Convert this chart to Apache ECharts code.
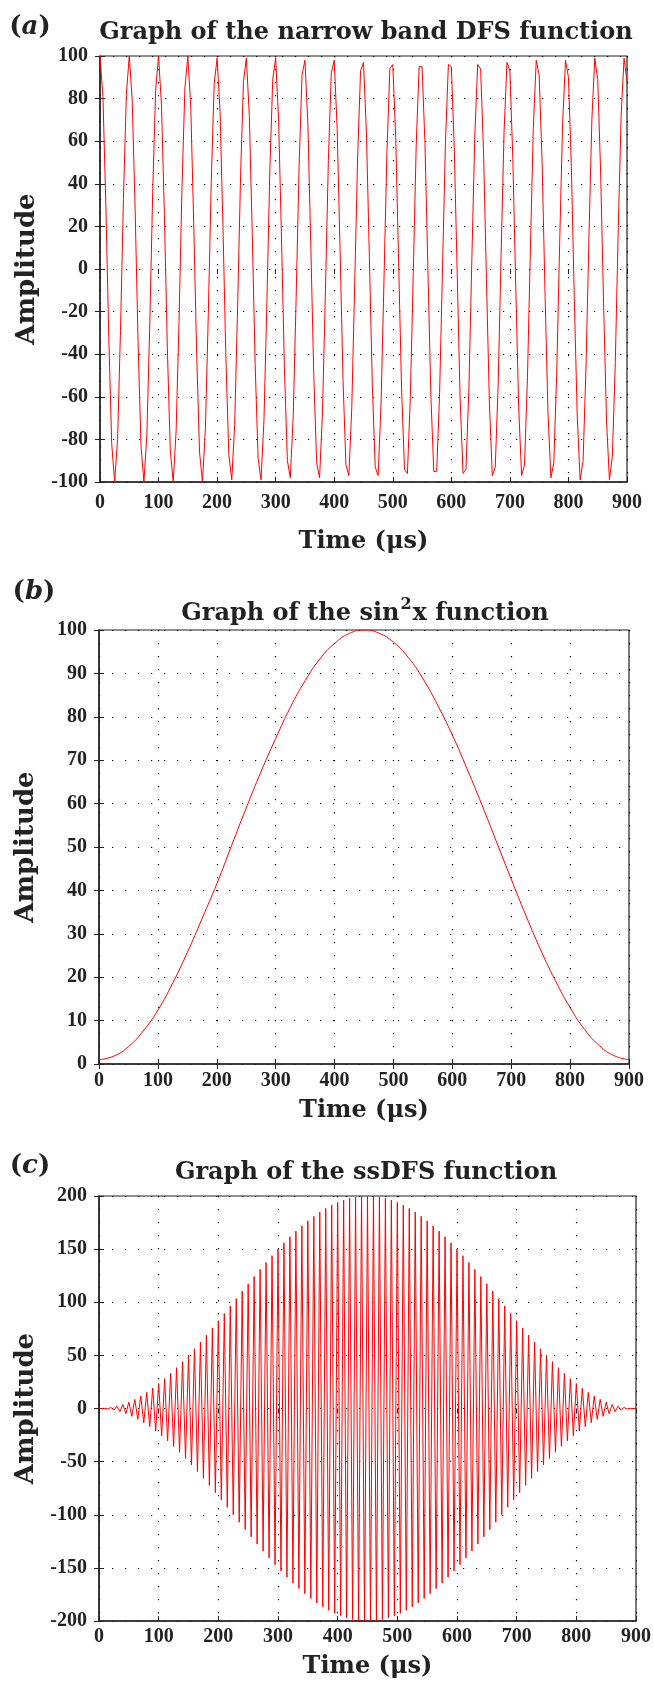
<!DOCTYPE html>
<html>
<head>
<meta charset="utf-8">
<script src="https://cdn.jsdelivr.net/npm/echarts@6.0.0/dist/echarts.min.js"></script>
<style>
  html, body { margin: 0; padding: 0; background: #fff; }
  #chart { width: 654px; height: 1683px; }
</style>
</head>
<body>
<div id="chart"></div>
<script>
// sample times (us) shared by panels (a) and (c)
const time = [
  0, 5, 10, 15, 20, 25, 30, 35, 40, 45, 50, 55, 60, 65, 70, 75, 80, 85, 90, 95,
  100, 105, 110, 115, 120, 125, 130, 135, 140, 145, 150, 155, 160, 165, 170, 175, 180, 185, 190, 195,
  200, 205, 210, 215, 220, 225, 230, 235, 240, 245, 250, 255, 260, 265, 270, 275, 280, 285, 290, 295,
  300, 305, 310, 315, 320, 325, 330, 335, 340, 345, 350, 355, 360, 365, 370, 375, 380, 385, 390, 395,
  400, 405, 410, 415, 420, 425, 430, 435, 440, 445, 450, 455, 460, 465, 470, 475, 480, 485, 490, 495,
  500, 505, 510, 515, 520, 525, 530, 535, 540, 545, 550, 555, 560, 565, 570, 575, 580, 585, 590, 595,
  600, 605, 610, 615, 620, 625, 630, 635, 640, 645, 650, 655, 660, 665, 670, 675, 680, 685, 690, 695,
  700, 705, 710, 715, 720, 725, 730, 735, 740, 745, 750, 755, 760, 765, 770, 775, 780, 785, 790, 795,
  800, 805, 810, 815, 820, 825, 830, 835, 840, 845, 850, 855, 860, 865, 870, 875, 880, 885, 890, 895,
  900
];

// (a) narrow band DFS, sampled
const dfs = [
  100, 81, 30, -32, -82, -100, -80, -29, 33, 82,
  100, 79, 28, -34, -83, -100, -78, -26, 36, 84,
  100, 77, 25, -37, -85, -100, -76, -24, 38, 85,
  100, 76, 22, -39, -86, -100, -75, -21, 41, 87,
  99, 74, 20, -42, -87, -99, -73, -18, 43, 88,
  99, 72, 17, -45, -89, -99, -71, -16, 46, 89,
  99, 70, 14, -47, -90, -98, -69, -13, 48, 91,
  98, 68, 11, -49, -91, -98, -67, -10, 51, 92,
  98, 66, 9, -52, -92, -97, -65, -7, 53, 93,
  97, 64, 6, -54, -93, -97, -63, -5, 55, 94,
  96, 62, 3, -56, -94, -96, -60, -2, 58, 95,
  95, 59, 0, -59, -95, -95, -58, 1, 60, 96,
  95, 57, -2, -61, -96, -94, -56, 4, 62, 96,
  94, 55, -5, -63, -97, -93, -54, 7, 64, 97,
  93, 52, -8, -65, -97, -92, -51, 9, 66, 98,
  91, 50, -11, -67, -98, -91, -49, 12, 68, 98,
  90, 48, -14, -69, -99, -90, -46, 15, 70, 99,
  89, 45, -16, -71, -99, -88, -44, 18, 72, 99,
  88
];

// (b) sin^2 window
const timeB = [
  0, 25, 50, 75, 100, 125, 150, 175, 200, 225, 250, 275, 300, 325, 350, 375, 400, 425, 450,
  475, 500, 525, 550, 575, 600, 625, 650, 675, 700, 725, 750, 775, 800, 825, 850, 875, 900
];
const sin2 = [
  1.0, 1.8, 4.0, 7.6, 12.4, 18.6, 25.7, 33.5, 41.5, 50.3, 59.0, 67.3, 75.0, 82.2, 88.3, 93.3, 96.9, 99.2, 100,
  99.3, 97.2, 93.7, 88.8, 82.7, 75.8, 68.0, 59.8, 51.2, 42.6, 34.2, 26.3, 19.2, 13.0, 7.9, 4.2, 1.9, 1.0
];

// (c) ssDFS, alternating extremes every 5 us
const ssdfs = [
  0, -0.1, 0.2, -0.5, 1, -1.5, 2.2, -3, 3.9, -4.9,
  6, -7.3, 8.6, -10.1, 11.7, -13.4, 15.2, -17.1, 19.1, -21.2,
  23.4, -25.7, 28.1, -30.5, 33.1, -35.7, 38.4, -41.2, 44.1, -47,
  50, -53, 56.2, -59.3, 62.5, -65.8, 69.1, -72.4, 75.8, -79.2,
  82.6, -86.1, 89.5, -93, 96.5, -100, 103.5, -107, 110.5, -113.9,
  117.4, -120.8, 124.2, -127.6, 130.9, -134.2, 137.5, -140.7, 143.8, -147,
  150, -153, 155.9, -158.8, 161.6, -164.3, 166.9, -169.5, 171.9, -174.3,
  176.6, -178.8, 180.9, -182.9, 184.8, -186.6, 188.3, -189.9, 191.4, -192.7,
  194, -195.1, 196.1, -197, 197.8, -198.5, 199, -199.5, 199.8, -199.9,
  200, -199.9, 199.8, -199.5, 199, -198.5, 197.8, -197, 196.1, -195.1,
  194, -192.7, 191.4, -189.9, 188.3, -186.6, 184.8, -182.9, 180.9, -178.8,
  176.6, -174.3, 171.9, -169.5, 166.9, -164.3, 161.6, -158.8, 155.9, -153,
  150, -147, 143.8, -140.7, 137.5, -134.2, 130.9, -127.6, 124.2, -120.8,
  117.4, -113.9, 110.5, -107, 103.5, -100, 96.5, -93, 89.5, -86.1,
  82.6, -79.2, 75.8, -72.4, 69.1, -65.8, 62.5, -59.3, 56.2, -53,
  50, -47, 44.1, -41.2, 38.4, -35.7, 33.1, -30.5, 28.1, -25.7,
  23.4, -21.2, 19.1, -17.1, 15.2, -13.4, 11.7, -10.1, 8.6, -7.3,
  6, -4.9, 3.9, -3, 2.2, -1.5, 1, -0.5, 0.2, -0.1,
  0
];

const xTicks = { min: 0, max: 900, step: 100 };
const yTicksA = { min: -100, max: 100, step: 20 };
const yTicksB = { min: 0, max: 100, step: 10 };
const yTicksC = { min: -200, max: 200, step: 50 };

const titles = ['Graph of the narrow band DFS function', 'Graph of the sin{s|2}x function', 'Graph of the ssDFS function'];
const tags = ['a', 'b', 'c'];

const serif = 'DejaVu Serif';
const tickFont = 'Liberation Serif';
const ink = '#222';
const red = '#ff0000';

const panels = [
  { grid: { left: 100, top: 56, width: 527, height: 426 }, y: yTicksA, xMargin: 11, xNameGap: 48, tagPos: [30, 27], titlePos: [366, 33] },
  { grid: { left: 99, top: 630, width: 530, height: 434 }, y: yTicksB, xMargin: 7, xNameGap: 35, tagPos: [34, 592], titlePos: [365, 611] },
  { grid: { left: 99, top: 1196, width: 538, height: 425 }, y: yTicksC, xMargin: 6, xNameGap: 34, tagPos: [30, 1166], titlePos: [366, 1173] }
];

const dotted = { color: '#000', width: 1.2, type: [1.2, 11.8] };
const tick = { show: true, inside: true, length: 5, lineStyle: { color: ink, width: 1 } };
const label = { fontFamily: tickFont, fontWeight: 'bold', fontSize: 20, color: ink };

const grids = [], xAxes = [], yAxes = [], graphics = [];

panels.forEach((p, i) => {
  grids.push(Object.assign({ show: true, borderColor: ink, borderWidth: 1.2, containLabel: false }, p.grid));

  xAxes.push({
    gridIndex: i, type: 'value', position: 'bottom',
    min: xTicks.min, max: xTicks.max, interval: xTicks.step,
    axisLine: { show: true, onZero: false, lineStyle: { color: ink, width: 1.5 } },
    axisTick: tick,
    axisLabel: Object.assign({ margin: p.xMargin }, label),
    splitLine: { show: true, lineStyle: dotted },
    name: 'Time (μs)', nameLocation: 'middle', nameGap: p.xNameGap,
    nameTextStyle: { fontFamily: serif, fontWeight: 'bold', fontSize: 24, color: ink }
  });
  xAxes.push({
    gridIndex: i, type: 'value', position: 'top',
    min: xTicks.min, max: xTicks.max, interval: xTicks.step,
    axisLine: { show: false }, axisTick: tick, axisLabel: { show: false }, splitLine: { show: false }
  });

  yAxes.push({
    gridIndex: i, type: 'value', position: 'left',
    min: p.y.min, max: p.y.max, interval: p.y.step,
    axisLine: { show: true, onZero: false, lineStyle: { color: ink, width: 1.5 } },
    axisTick: tick,
    axisLabel: Object.assign({ margin: 12 }, label),
    splitLine: { show: true, lineStyle: dotted },
    name: 'Amplitude', nameLocation: 'middle', nameGap: 60, nameRotate: 90,
    nameTextStyle: { fontFamily: serif, fontWeight: 'bold', fontSize: 26, color: ink }
  });
  yAxes.push({
    gridIndex: i, type: 'value', position: 'right',
    min: p.y.min, max: p.y.max, interval: p.y.step,
    axisLine: { show: false }, axisTick: tick, axisLabel: { show: false }, splitLine: { show: false }
  });

  graphics.push({
    type: 'text', x: p.tagPos[0], y: p.tagPos[1],
    style: {
      text: '{p|(}{i|' + tags[i] + '}{p|)}',
      align: 'center', verticalAlign: 'middle',
      rich: {
        p: { fontFamily: serif, fontWeight: 'bold', fontSize: 26, fill: ink },
        i: { fontFamily: serif, fontWeight: 'bold', fontStyle: 'italic', fontSize: 26, fill: ink }
      }
    }
  });
  graphics.push({
    type: 'text', x: p.titlePos[0], y: p.titlePos[1],
    style: {
      text: titles[i].replace(/^(.*?)(\{s\|2\}|$)(.*)$/, (m, a, s, b) => '{m|' + a + '}' + (s ? s + '{m|' + b + '}' : '')),
      align: 'center', verticalAlign: 'middle',
      rich: {
        m: { fontFamily: serif, fontWeight: 'bold', fontSize: 24, fill: ink, verticalAlign: 'bottom' },
        s: { fontFamily: serif, fontWeight: 'bold', fontSize: 16, fill: ink, padding: [0, 1, 13, 1], verticalAlign: 'bottom' }
      }
    }
  });
});

const lineSeries = (i, xs, ys, smooth) => ({
  type: 'line', xAxisIndex: i * 2, yAxisIndex: i * 2,
  data: xs.map((t, k) => [t, ys[k]]),
  showSymbol: false, smooth: smooth, clip: true,
  lineStyle: { color: red, width: 1 }
});

const chart = echarts.init(document.getElementById('chart'));
chart.setOption({
  animation: false,
  backgroundColor: '#fff',
  grid: grids,
  xAxis: xAxes,
  yAxis: yAxes,
  graphic: graphics,
  series: [
    lineSeries(0, time, dfs, false),
    lineSeries(1, timeB, sin2, true),
    lineSeries(2, time, ssdfs, false)
  ]
});
</script>
</body>
</html>
